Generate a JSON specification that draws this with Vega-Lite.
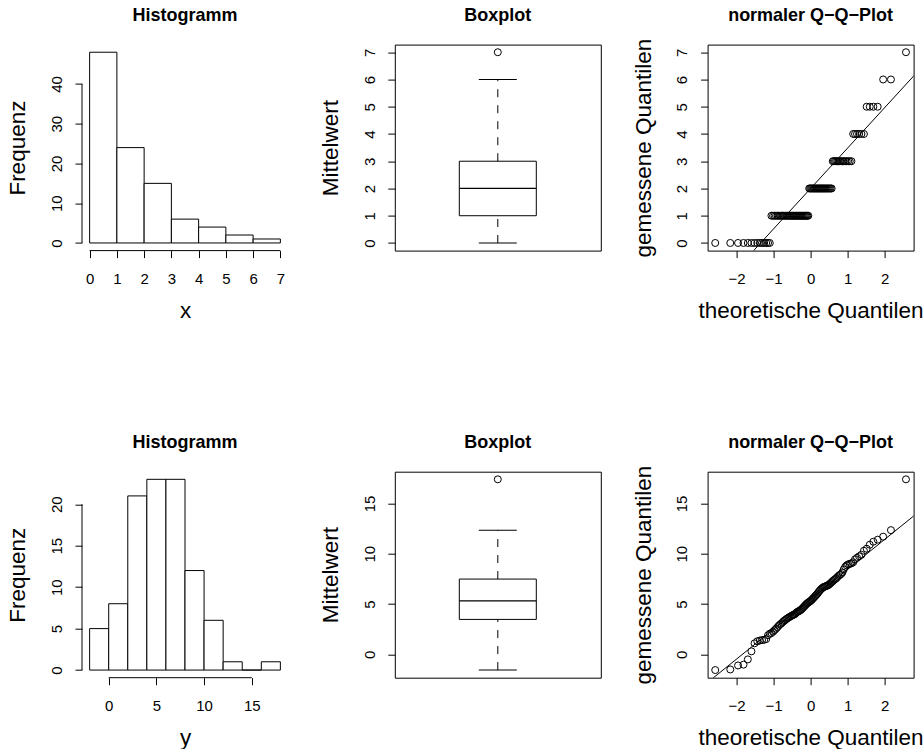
{
  "$schema": "https://vega.github.io/schema/vega-lite/v6.json",
  "background": "white",
  "padding": {"left": 6, "top": 5.6, "right": 0, "bottom": 0},
  "columns": 3,
  "bounds": "flush",
  "spacing": {"row": 221.1, "column": 106.8},
  "datasets": {
    "xh": [
      {"b0": 0, "b1": 1, "n": 48}, {"b0": 1, "b1": 2, "n": 24}, {"b0": 2, "b1": 3, "n": 15},
      {"b0": 3, "b1": 4, "n": 6}, {"b0": 4, "b1": 5, "n": 4}, {"b0": 5, "b1": 6, "n": 2}, {"b0": 6, "b1": 7, "n": 1}
    ],
    "yh": [
      {"b0": -2, "b1": 0, "n": 5}, {"b0": 0, "b1": 2, "n": 8}, {"b0": 2, "b1": 4, "n": 21},
      {"b0": 4, "b1": 6, "n": 23}, {"b0": 6, "b1": 8, "n": 23}, {"b0": 8, "b1": 10, "n": 12},
      {"b0": 10, "b1": 12, "n": 6}, {"b0": 12, "b1": 14, "n": 1}, {"b0": 14, "b1": 16, "n": 0}, {"b0": 16, "b1": 18, "n": 1}
    ],
    "xl": [{"z": -3, "v": -2.448}, {"z": 3, "v": 6.448}],
    "yl": [{"z": -3, "v": -3.438}, {"z": 3, "v": 14.398}],
    "xs": [
      {"z": -2.576, "v": 0}, {"z": -2.170, "v": 0}, {"z": -1.960, "v": 0}, {"z": -1.812, "v": 0}, {"z": -1.695, "v": 0},
      {"z": -1.598, "v": 0}, {"z": -1.514, "v": 0}, {"z": -1.440, "v": 0}, {"z": -1.372, "v": 0}, {"z": -1.311, "v": 0},
      {"z": -1.254, "v": 0}, {"z": -1.200, "v": 0}, {"z": -1.150, "v": 0}, {"z": -1.103, "v": 0}, {"z": -1.058, "v": 1},
      {"z": -1.015, "v": 1}, {"z": -0.974, "v": 1}, {"z": -0.935, "v": 1}, {"z": -0.896, "v": 1}, {"z": -0.860, "v": 1},
      {"z": -0.824, "v": 1}, {"z": -0.789, "v": 1}, {"z": -0.755, "v": 1}, {"z": -0.722, "v": 1}, {"z": -0.690, "v": 1},
      {"z": -0.659, "v": 1}, {"z": -0.628, "v": 1}, {"z": -0.598, "v": 1}, {"z": -0.568, "v": 1}, {"z": -0.539, "v": 1},
      {"z": -0.510, "v": 1}, {"z": -0.482, "v": 1}, {"z": -0.454, "v": 1}, {"z": -0.426, "v": 1}, {"z": -0.399, "v": 1},
      {"z": -0.372, "v": 1}, {"z": -0.345, "v": 1}, {"z": -0.319, "v": 1}, {"z": -0.292, "v": 1}, {"z": -0.266, "v": 1},
      {"z": -0.240, "v": 1}, {"z": -0.215, "v": 1}, {"z": -0.189, "v": 1}, {"z": -0.164, "v": 1}, {"z": -0.138, "v": 1},
      {"z": -0.113, "v": 1}, {"z": -0.088, "v": 1}, {"z": -0.063, "v": 1}, {"z": -0.038, "v": 2}, {"z": -0.013, "v": 2},
      {"z": 0.013, "v": 2}, {"z": 0.038, "v": 2}, {"z": 0.063, "v": 2}, {"z": 0.088, "v": 2}, {"z": 0.113, "v": 2},
      {"z": 0.138, "v": 2}, {"z": 0.164, "v": 2}, {"z": 0.189, "v": 2}, {"z": 0.215, "v": 2}, {"z": 0.240, "v": 2},
      {"z": 0.266, "v": 2}, {"z": 0.292, "v": 2}, {"z": 0.319, "v": 2}, {"z": 0.345, "v": 2}, {"z": 0.372, "v": 2},
      {"z": 0.399, "v": 2}, {"z": 0.426, "v": 2}, {"z": 0.454, "v": 2}, {"z": 0.482, "v": 2}, {"z": 0.510, "v": 2},
      {"z": 0.539, "v": 2}, {"z": 0.568, "v": 2}, {"z": 0.598, "v": 3}, {"z": 0.628, "v": 3}, {"z": 0.659, "v": 3},
      {"z": 0.690, "v": 3}, {"z": 0.722, "v": 3}, {"z": 0.755, "v": 3}, {"z": 0.789, "v": 3}, {"z": 0.824, "v": 3},
      {"z": 0.860, "v": 3}, {"z": 0.896, "v": 3}, {"z": 0.935, "v": 3}, {"z": 0.974, "v": 3}, {"z": 1.015, "v": 3},
      {"z": 1.058, "v": 3}, {"z": 1.103, "v": 3}, {"z": 1.150, "v": 4}, {"z": 1.200, "v": 4}, {"z": 1.254, "v": 4},
      {"z": 1.311, "v": 4}, {"z": 1.372, "v": 4}, {"z": 1.440, "v": 4}, {"z": 1.514, "v": 5}, {"z": 1.598, "v": 5},
      {"z": 1.695, "v": 5}, {"z": 1.812, "v": 5}, {"z": 1.960, "v": 6}, {"z": 2.170, "v": 6}, {"z": 2.576, "v": 7}
    ],
    "ys": [
      {"z": -2.576, "v": -1.56}, {"z": -2.170, "v": -1.50}, {"z": -1.960, "v": -1.10}, {"z": -1.812, "v": -1.02}, {"z": -1.695, "v": -0.50},
      {"z": -1.598, "v": 0.30}, {"z": -1.514, "v": 1.10}, {"z": -1.440, "v": 1.30}, {"z": -1.372, "v": 1.38}, {"z": -1.311, "v": 1.42},
      {"z": -1.254, "v": 1.45}, {"z": -1.200, "v": 1.52}, {"z": -1.150, "v": 1.90}, {"z": -1.103, "v": 2.05}, {"z": -1.058, "v": 2.12},
      {"z": -1.015, "v": 2.25}, {"z": -0.974, "v": 2.40}, {"z": -0.935, "v": 2.55}, {"z": -0.896, "v": 2.70}, {"z": -0.860, "v": 2.85},
      {"z": -0.824, "v": 2.98}, {"z": -0.789, "v": 3.08}, {"z": -0.755, "v": 3.20}, {"z": -0.722, "v": 3.32}, {"z": -0.690, "v": 3.40},
      {"z": -0.659, "v": 3.50}, {"z": -0.628, "v": 3.58}, {"z": -0.598, "v": 3.65}, {"z": -0.568, "v": 3.72}, {"z": -0.539, "v": 3.78},
      {"z": -0.510, "v": 3.85}, {"z": -0.482, "v": 3.90}, {"z": -0.454, "v": 3.95}, {"z": -0.426, "v": 3.99}, {"z": -0.399, "v": 4.10},
      {"z": -0.372, "v": 4.18}, {"z": -0.345, "v": 4.25}, {"z": -0.319, "v": 4.30}, {"z": -0.292, "v": 4.35}, {"z": -0.266, "v": 4.42},
      {"z": -0.240, "v": 4.50}, {"z": -0.215, "v": 4.60}, {"z": -0.189, "v": 4.70}, {"z": -0.164, "v": 4.80}, {"z": -0.138, "v": 4.90},
      {"z": -0.113, "v": 5.00}, {"z": -0.088, "v": 5.08}, {"z": -0.063, "v": 5.15}, {"z": -0.038, "v": 5.22}, {"z": -0.013, "v": 5.28},
      {"z": 0.013, "v": 5.36}, {"z": 0.038, "v": 5.45}, {"z": 0.063, "v": 5.55}, {"z": 0.088, "v": 5.65}, {"z": 0.113, "v": 5.75},
      {"z": 0.138, "v": 5.85}, {"z": 0.164, "v": 5.95}, {"z": 0.189, "v": 6.05}, {"z": 0.215, "v": 6.20}, {"z": 0.240, "v": 6.30},
      {"z": 0.266, "v": 6.42}, {"z": 0.292, "v": 6.52}, {"z": 0.319, "v": 6.60}, {"z": 0.345, "v": 6.68}, {"z": 0.372, "v": 6.72},
      {"z": 0.399, "v": 6.76}, {"z": 0.426, "v": 6.80}, {"z": 0.454, "v": 6.84}, {"z": 0.482, "v": 6.90}, {"z": 0.510, "v": 6.98},
      {"z": 0.539, "v": 7.08}, {"z": 0.568, "v": 7.18}, {"z": 0.598, "v": 7.28}, {"z": 0.628, "v": 7.38}, {"z": 0.659, "v": 7.46},
      {"z": 0.690, "v": 7.56}, {"z": 0.722, "v": 7.68}, {"z": 0.755, "v": 7.80}, {"z": 0.789, "v": 7.90}, {"z": 0.824, "v": 7.98},
      {"z": 0.860, "v": 8.15}, {"z": 0.896, "v": 8.45}, {"z": 0.935, "v": 8.70}, {"z": 0.974, "v": 8.85}, {"z": 1.015, "v": 8.95},
      {"z": 1.058, "v": 9.00}, {"z": 1.103, "v": 9.05}, {"z": 1.150, "v": 9.15}, {"z": 1.200, "v": 9.45}, {"z": 1.254, "v": 9.60},
      {"z": 1.311, "v": 9.75}, {"z": 1.372, "v": 9.90}, {"z": 1.440, "v": 10.30}, {"z": 1.514, "v": 10.50}, {"z": 1.598, "v": 10.90},
      {"z": 1.695, "v": 11.20}, {"z": 1.812, "v": 11.40}, {"z": 1.960, "v": 11.70}, {"z": 2.170, "v": 12.35}, {"z": 2.576, "v": 17.40}
    ]
  },
  "concat": [
    {
      "title": "Histogramm",
      "width": 206, "height": 206,
      "layer": [
        {
          "data": {"name": "xh"},
          "mark": {"type": "rect", "fill": "white", "stroke": "black", "strokeWidth": 1},
          "encoding": {
            "x": {"field": "b0", "type": "quantitative", "scale": {"domain": [-0.28, 7.28], "nice": false, "zero": false}, "axis": {"values": [0, 1, 2, 3, 4, 5, 6, 7], "title": "x"}},
            "x2": {"field": "b1"},
            "y": {"field": "n", "type": "quantitative", "scale": {"domain": [-1.92, 49.92], "nice": false, "zero": false}, "axis": {"values": [0, 10, 20, 30, 40], "title": "Frequenz"}},
            "y2": {"datum": 0}
          }
        },
        {
          "data": {"values": [{}]},
          "mark": {"type": "rule", "color": "black", "strokeWidth": 1},
          "encoding": {
            "x": {"datum": 0, "type": "quantitative", "scale": {"domain": [-0.28, 7.28], "nice": false, "zero": false}, "axis": {"values": [0, 1, 2, 3, 4, 5, 6, 7], "title": "x"}},
            "x2": {"datum": 7},
            "y": {"datum": -1.92, "type": "quantitative", "scale": {"domain": [-1.92, 49.92], "nice": false, "zero": false}, "axis": {"values": [0, 10, 20, 30, 40], "title": "Frequenz"}}
          }
        },
        {
          "data": {"values": [{}]},
          "mark": {"type": "rule", "color": "black", "strokeWidth": 1},
          "encoding": {
            "x": {"datum": -0.28, "type": "quantitative", "scale": {"domain": [-0.28, 7.28], "nice": false, "zero": false}, "axis": {"values": [0, 1, 2, 3, 4, 5, 6, 7], "title": "x"}},
            "y": {"datum": 0, "type": "quantitative", "scale": {"domain": [-1.92, 49.92], "nice": false, "zero": false}, "axis": {"values": [0, 10, 20, 30, 40], "title": "Frequenz"}},
            "y2": {"datum": 40}
          }
        }
      ]
    },
    {
      "title": "Boxplot",
      "width": 206, "height": 206,
      "view": {"stroke": "black", "strokeWidth": 1},
      "data": {"name": "xs"},
      "mark": {
        "type": "boxplot", "extent": 1.5, "size": 77,
        "box": {"fill": "white", "stroke": "black", "strokeWidth": 1, "opacity": 1},
        "median": {"color": "black", "opacity": 1, "thickness": 1.3},
        "rule": {"color": "black", "strokeDash": [8, 8], "strokeWidth": 1, "opacity": 1},
        "ticks": {"color": "black", "size": 38, "opacity": 1},
        "outliers": {"shape": "circle", "filled": false, "color": "black", "size": 49, "strokeWidth": 1, "opacity": 1}
      },
      "encoding": {
        "y": {"field": "v", "type": "quantitative", "title": "Mittelwert", "scale": {"domain": [-0.28, 7.28], "nice": false, "zero": false}, "axis": {"values": [0, 1, 2, 3, 4, 5, 6, 7]}}
      }
    },
    {
      "title": {"text": "normaler Q−Q−Plot", "offset": 13},
      "width": 206, "height": 206,
      "view": {"stroke": "black", "strokeWidth": 1},
      "layer": [
        {
          "data": {"name": "xs"},
          "mark": {"type": "point", "shape": "circle", "filled": false, "color": "black", "size": 49, "strokeWidth": 1, "opacity": 1},
          "encoding": {
            "x": {"field": "z", "type": "quantitative", "scale": {"domain": [-2.782, 2.782], "nice": false, "zero": false}, "axis": {"values": [-2, -1, 0, 1, 2], "title": "theoretische Quantilen"}},
            "y": {"field": "v", "type": "quantitative", "scale": {"domain": [-0.28, 7.28], "nice": false, "zero": false}, "axis": {"values": [0, 1, 2, 3, 4, 5, 6, 7], "title": "gemessene Quantilen"}}
          }
        },
        {
          "data": {"name": "xl"},
          "mark": {"type": "line", "color": "black", "strokeWidth": 1, "clip": true},
          "encoding": {
            "x": {"field": "z", "type": "quantitative", "scale": {"domain": [-2.782, 2.782], "nice": false, "zero": false}, "axis": {"values": [-2, -1, 0, 1, 2], "title": "theoretische Quantilen"}},
            "y": {"field": "v", "type": "quantitative", "scale": {"domain": [-0.28, 7.28], "nice": false, "zero": false}, "axis": {"values": [0, 1, 2, 3, 4, 5, 6, 7], "title": "gemessene Quantilen"}}
          }
        }
      ]
    },
    {
      "title": "Histogramm",
      "width": 206, "height": 206,
      "layer": [
        {
          "data": {"name": "yh"},
          "mark": {"type": "rect", "fill": "white", "stroke": "black", "strokeWidth": 1},
          "encoding": {
            "x": {"field": "b0", "type": "quantitative", "scale": {"domain": [-2.8, 18.8], "nice": false, "zero": false}, "axis": {"values": [0, 5, 10, 15], "title": "y"}},
            "x2": {"field": "b1"},
            "y": {"field": "n", "type": "quantitative", "scale": {"domain": [-0.92, 23.92], "nice": false, "zero": false}, "axis": {"values": [0, 5, 10, 15, 20], "title": "Frequenz"}},
            "y2": {"datum": 0}
          }
        },
        {
          "data": {"values": [{}]},
          "mark": {"type": "rule", "color": "black", "strokeWidth": 1},
          "encoding": {
            "x": {"datum": 0, "type": "quantitative", "scale": {"domain": [-2.8, 18.8], "nice": false, "zero": false}, "axis": {"values": [0, 5, 10, 15], "title": "y"}},
            "x2": {"datum": 15},
            "y": {"datum": -0.92, "type": "quantitative", "scale": {"domain": [-0.92, 23.92], "nice": false, "zero": false}, "axis": {"values": [0, 5, 10, 15, 20], "title": "Frequenz"}}
          }
        },
        {
          "data": {"values": [{}]},
          "mark": {"type": "rule", "color": "black", "strokeWidth": 1},
          "encoding": {
            "x": {"datum": -2.8, "type": "quantitative", "scale": {"domain": [-2.8, 18.8], "nice": false, "zero": false}, "axis": {"values": [0, 5, 10, 15], "title": "y"}},
            "y": {"datum": 0, "type": "quantitative", "scale": {"domain": [-0.92, 23.92], "nice": false, "zero": false}, "axis": {"values": [0, 5, 10, 15, 20], "title": "Frequenz"}},
            "y2": {"datum": 20}
          }
        }
      ]
    },
    {
      "title": "Boxplot",
      "width": 206, "height": 206,
      "view": {"stroke": "black", "strokeWidth": 1},
      "data": {"name": "ys"},
      "mark": {
        "type": "boxplot", "extent": 1.5, "size": 77,
        "box": {"fill": "white", "stroke": "black", "strokeWidth": 1, "opacity": 1},
        "median": {"color": "black", "opacity": 1, "thickness": 1.3},
        "rule": {"color": "black", "strokeDash": [8, 8], "strokeWidth": 1, "opacity": 1},
        "ticks": {"color": "black", "size": 38, "opacity": 1},
        "outliers": {"shape": "circle", "filled": false, "color": "black", "size": 49, "strokeWidth": 1, "opacity": 1}
      },
      "encoding": {
        "y": {"field": "v", "type": "quantitative", "title": "Mittelwert", "scale": {"domain": [-2.318, 18.158], "nice": false, "zero": false}, "axis": {"values": [0, 5, 10, 15]}}
      }
    },
    {
      "title": {"text": "normaler Q−Q−Plot", "offset": 13},
      "width": 206, "height": 206,
      "view": {"stroke": "black", "strokeWidth": 1},
      "layer": [
        {
          "data": {"name": "ys"},
          "mark": {"type": "point", "shape": "circle", "filled": false, "color": "black", "size": 49, "strokeWidth": 1, "opacity": 1},
          "encoding": {
            "x": {"field": "z", "type": "quantitative", "scale": {"domain": [-2.782, 2.782], "nice": false, "zero": false}, "axis": {"values": [-2, -1, 0, 1, 2], "title": "theoretische Quantilen"}},
            "y": {"field": "v", "type": "quantitative", "scale": {"domain": [-2.318, 18.158], "nice": false, "zero": false}, "axis": {"values": [0, 5, 10, 15], "title": "gemessene Quantilen"}}
          }
        },
        {
          "data": {"name": "yl"},
          "mark": {"type": "line", "color": "black", "strokeWidth": 1, "clip": true},
          "encoding": {
            "x": {"field": "z", "type": "quantitative", "scale": {"domain": [-2.782, 2.782], "nice": false, "zero": false}, "axis": {"values": [-2, -1, 0, 1, 2], "title": "theoretische Quantilen"}},
            "y": {"field": "v", "type": "quantitative", "scale": {"domain": [-2.318, 18.158], "nice": false, "zero": false}, "axis": {"values": [0, 5, 10, 15], "title": "gemessene Quantilen"}}
          }
        }
      ]
    }
  ],
  "config": {
    "font": "Liberation Sans",
    "view": {"stroke": null},
    "axis": {
      "grid": false, "domain": false,
      "tickColor": "black", "tickWidth": 1, "tickSize": 7,
      "labelColor": "black", "labelFont": "Liberation Sans", "labelFontSize": 15,
      "titleColor": "black", "titleFont": "Liberation Sans", "titleFontSize": 22.5, "titleFontWeight": "normal",
      "labelFlush": false, "labelOverlap": false
    },
    "axisX": {
      "labelPadding": 26, "labelBaseline": "alphabetic",
      "minExtent": 36, "maxExtent": 36, "titlePadding": 31, "titleBaseline": "alphabetic"
    },
    "axisY": {
      "labelPadding": 13.7, "labelAngle": 270, "labelAlign": "center", "labelBaseline": "alphabetic",
      "minExtent": 33, "maxExtent": 33, "titlePadding": 24.3, "titleBaseline": "alphabetic"
    },
    "title": {"font": "Liberation Sans", "fontSize": 18, "fontWeight": "bold", "color": "black", "offset": 20, "baseline": "alphabetic", "anchor": "middle", "frame": "group"}
  }
}
